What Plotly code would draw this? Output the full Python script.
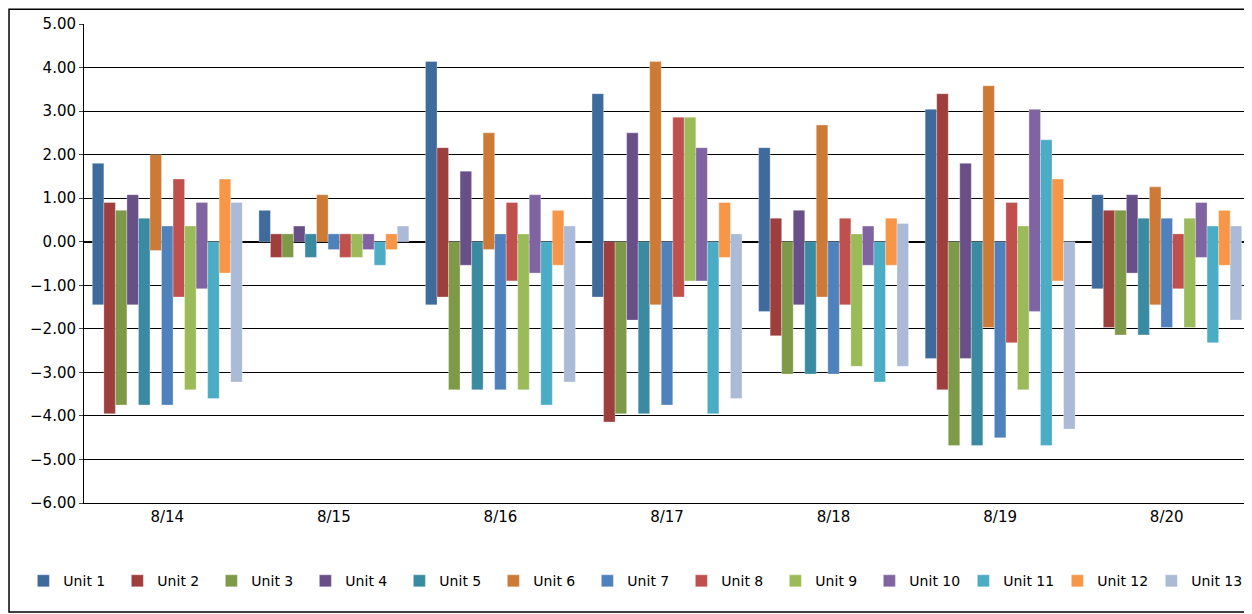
import plotly.graph_objects as go

dates = ["8/14", "8/15", "8/16", "8/17", "8/18", "8/19", "8/20"]
units = ["Unit %d" % i for i in range(1, 14)]

# per-unit highs and lows, one value per date
highs = [
    [1.80, 0.72, 4.14, 3.40, 2.16, 3.04, 1.08],
    [0.90, 0.18, 2.16, 0.00, 0.54, 3.40, 0.72],
    [0.72, 0.18, 0.00, 0.00, 0.00, 0.00, 0.72],
    [1.08, 0.36, 1.62, 2.50, 0.72, 1.80, 1.08],
    [0.54, 0.18, 0.00, 0.00, 0.00, 0.00, 0.54],
    [2.00, 1.08, 2.50, 4.14, 2.68, 3.58, 1.26],
    [0.36, 0.18, 0.18, 0.00, 0.00, 0.00, 0.54],
    [1.44, 0.18, 0.90, 2.86, 0.54, 0.90, 0.18],
    [0.36, 0.18, 0.18, 2.86, 0.18, 0.36, 0.54],
    [0.90, 0.18, 1.08, 2.16, 0.36, 3.04, 0.90],
    [0.00, 0.00, 0.00, 0.00, 0.00, 2.34, 0.36],
    [1.44, 0.18, 0.72, 0.90, 0.54, 1.44, 0.72],
    [0.90, 0.36, 0.36, 0.18, 0.42, 0.00, 0.36],
]
lows = [
    [-1.45, 0.00, -1.45, -1.27, -1.60, -2.68, -1.08],
    [-3.95, -0.36, -1.27, -4.14, -2.16, -3.40, -1.97],
    [-3.75, -0.36, -3.40, -3.95, -3.04, -4.68, -2.14],
    [-1.45, 0.00, -0.54, -1.80, -1.45, -2.68, -0.72],
    [-3.75, -0.36, -3.40, -3.95, -3.04, -4.68, -2.14],
    [-0.20, 0.00, -0.18, -1.45, -1.27, -1.97, -1.45],
    [-3.75, -0.18, -3.40, -3.75, -3.04, -4.50, -1.97],
    [-1.27, -0.36, -0.90, -1.27, -1.45, -2.32, -1.08],
    [-3.40, -0.36, -3.40, -0.90, -2.86, -3.40, -1.97],
    [-1.08, -0.18, -0.72, -0.90, -0.54, -1.60, -0.36],
    [-3.60, -0.54, -3.75, -3.95, -3.22, -4.68, -2.32],
    [-0.72, -0.18, -0.54, -0.36, -0.54, -0.90, -0.54],
    [-3.22, 0.00, -3.22, -3.60, -2.86, -4.30, -1.80],
]
colors = ["#3E6A9C", "#9E3F3D", "#7E9A48", "#684F88", "#3A8BA2", "#CC7A36", "#4F81BD",
          "#C0504D", "#9BBB59", "#8064A2", "#4BACC6", "#F79646", "#AABAD7"]

fig = go.Figure()
for name, hi, lo, c in zip(units, highs, lows, colors):
    fig.add_trace(go.Bar(x=dates, y=[h - l for h, l in zip(hi, lo)], base=lo, name=name,
                         marker=dict(color=c, line=dict(color="rgba(255,255,255,0.6)", width=0.5))))

fig.update_layout(
    width=1244, height=606, barmode="group", bargap=0.1, bargroupgap=0,
    paper_bgcolor="white", plot_bgcolor="white",
    margin=dict(l=76, r=2, t=16, b=111, autoexpand=False),
    font=dict(family="DejaVu Sans", size=15, color="black"),
    legend=dict(orientation="h", x=-0.052, xanchor="left", y=-0.13, yanchor="top",
                font=dict(size=14), entrywidth=49, entrywidthmode="pixels", itemwidth=30,
                tracegroupgap=0),
    xaxis=dict(showline=True, linecolor="black", ticks="", zeroline=False),
    yaxis=dict(range=[-6, 5], dtick=1, tickformat=".2f", showgrid=True, gridcolor="black",
               gridwidth=1, showline=True, linecolor="black", ticks="outside", ticklen=4,
               zeroline=True, zerolinecolor="black", zerolinewidth=1.5),
    shapes=[dict(type="rect", xref="paper", yref="paper", x0=-0.0643, x1=0.9995, y0=-0.2276, y1=1.031,
                 line=dict(color="black", width=1.5))],
)
fig.write_html("out.html")
